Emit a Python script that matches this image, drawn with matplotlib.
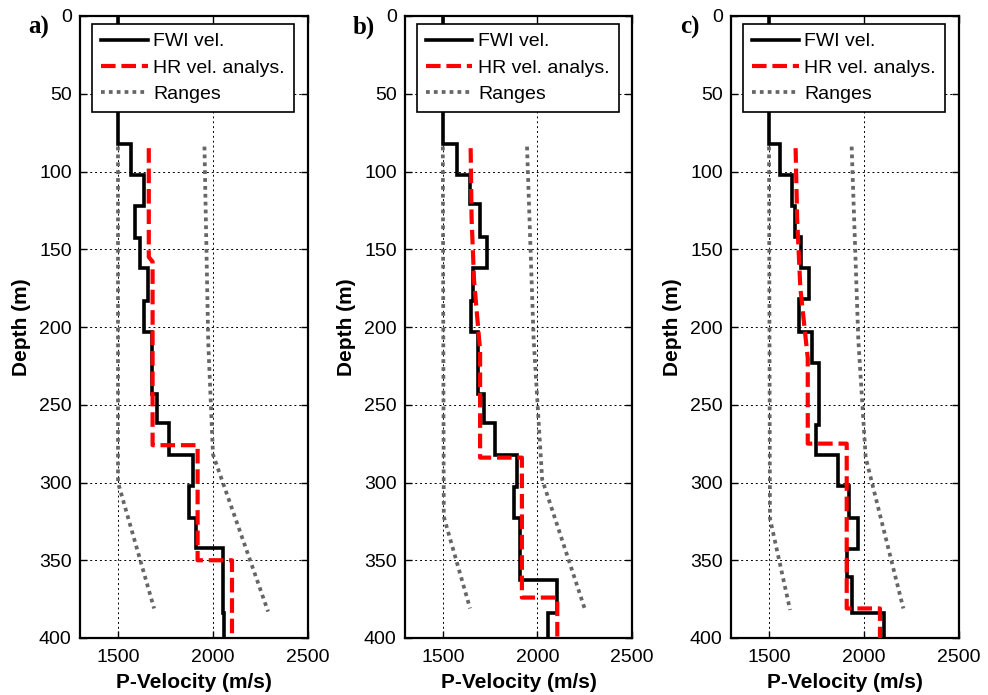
import numpy as np
import matplotlib
matplotlib.use('Agg')
import matplotlib.pyplot as plt

# ---------------- data ----------------
panel_labels = ['a)', 'b)', 'c)']
legend_labels = ['FWI vel.', 'HR vel. analys.', 'Ranges']
x_ticks = [1500, 2000, 2500]
y_ticks = [0, 50, 100, 150, 200, 250, 300, 350, 400]

# FWI velocity: layer boundaries (m) and interval velocities (m/s)
fwi_a_depth = [0, 82, 102, 122, 143, 162, 183, 203, 243, 262, 282, 302, 323, 342, 384, 400]
fwi_a_vel = [1500, 1568, 1639, 1591, 1616, 1656, 1635, 1678, 1703, 1766, 1893, 1876, 1911, 2051, 2058]

fwi_b_depth = [0, 82, 102, 121, 142, 162, 183, 203, 243, 262, 282, 303, 323, 363, 384, 400]
fwi_b_vel = [1500, 1576, 1644, 1697, 1732, 1661, 1647, 1688, 1715, 1777, 1892, 1874, 1910, 2101, 2055]

fwi_c_depth = [0, 82, 102, 122, 142, 162, 182, 203, 223, 263, 282, 302, 323, 343, 361, 384, 400]
fwi_c_vel = [1500, 1558, 1619, 1637, 1668, 1712, 1658, 1725, 1763, 1746, 1865, 1921, 1970, 1909, 1939, 2107]

# HR velocity analysis (polyline vertices)
hr_a_vel = [1662, 1662, 1682, 1682, 1919, 1919, 2100, 2100]
hr_a_depth = [85, 155, 158, 276, 276, 350, 350, 400]

hr_b_vel = [1647, 1652, 1665, 1697, 1697, 1918, 1918, 2105, 2105]
hr_b_depth = [85, 130, 170, 215, 284, 284, 374, 374, 400]

hr_c_vel = [1640, 1648, 1665, 1704, 1704, 1909, 1909, 2084, 2084]
hr_c_depth = [85, 130, 175, 220, 275, 275, 381, 381, 400]

# Ranges (lower / upper bounds)
rng_a_low_vel = [1500, 1500, 1690]
rng_a_low_depth = [84, 300, 381]
rng_a_up_vel = [1955, 1975, 2000, 2290]
rng_a_up_depth = [84, 210, 282, 383]

rng_b_low_vel = [1500, 1505, 1644]
rng_b_low_depth = [84, 322, 381]
rng_b_up_vel = [1945, 1980, 2025, 2255]
rng_b_up_depth = [84, 208, 298, 383]

rng_c_low_vel = [1500, 1505, 1611]
rng_c_low_depth = [84, 323, 382]
rng_c_up_vel = [1935, 1970, 2009, 2207]
rng_c_up_depth = [84, 208, 284, 381]

panels = [
    (fwi_a_depth, fwi_a_vel, hr_a_vel, hr_a_depth,
     (rng_a_low_vel, rng_a_low_depth), (rng_a_up_vel, rng_a_up_depth)),
    (fwi_b_depth, fwi_b_vel, hr_b_vel, hr_b_depth,
     (rng_b_low_vel, rng_b_low_depth), (rng_b_up_vel, rng_b_up_depth)),
    (fwi_c_depth, fwi_c_vel, hr_c_vel, hr_c_depth,
     (rng_c_low_vel, rng_c_low_depth), (rng_c_up_vel, rng_c_up_depth)),
]


def step_xy(depths, vels):
    d = np.asarray(depths, float)
    v = np.asarray(vels, float)
    y = np.repeat(d, 2)[1:-1]
    x = np.repeat(v, 2)
    return x, y


plt.rcParams['font.family'] = ['Liberation Sans', 'DejaVu Sans']

W, H = 988, 695
fig = plt.figure(figsize=(W / 100, H / 100), dpi=100)

lefts = [80, 405, 731]
widths = [228, 227, 228]
top_px, bot_px = 16, 638

for i, (fd, fv, hv, hd, rlow, rup) in enumerate(panels):
    ax = fig.add_axes([lefts[i] / W, 1 - bot_px / H, widths[i] / W, (bot_px - top_px) / H])
    x, y = step_xy(fd, fv)
    ax.plot(x, y, color='black', lw=2.6, solid_joinstyle='miter', label=legend_labels[0], zorder=3)
    ax.plot(hv, hd, color='#ff0000', lw=3.0, linestyle=(0, (3.5, 1.4)),
            label=legend_labels[1], zorder=4)
    ax.plot(rlow[0], rlow[1], color='#666666', lw=2.7, linestyle=(0, (1, 1.1)),
            label=legend_labels[2], zorder=3)
    ax.plot(rup[0], rup[1], color='#666666', lw=2.7, linestyle=(0, (1, 1.1)), zorder=3)

    ax.set_xlim(1300, 2500)
    ax.set_ylim(400, 0)
    ax.set_xticks(x_ticks)
    ax.set_yticks(y_ticks)
    ax.tick_params(axis='x', direction='in', length=5, width=1, top=True,
                   labelsize=14, pad=8)
    ax.tick_params(axis='y', direction='in', length=5, width=1, right=True,
                   labelsize=14, pad=6)
    ax.grid(True, color='black', lw=0.7, linestyle=(0, (2, 3)), zorder=1)
    for s in ax.spines.values():
        s.set_linewidth(1.6)
    ax.set_xlabel('P-Velocity (m/s)', fontsize=15, fontweight='bold', labelpad=5)
    ax.set_ylabel('Depth (m)', fontsize=15, fontweight='bold')
    ax.yaxis.set_label_coords(-0.215, 0.5)

    leg = ax.legend(loc='upper left', bbox_to_anchor=(0.053, 0.987), borderaxespad=0,
                    fontsize=14, frameon=True, fancybox=False, framealpha=1,
                    edgecolor='black', handlelength=2.4, handletextpad=0.3,
                    labelspacing=0.45, borderpad=0.45)
    leg.get_frame().set_linewidth(1.2)
    leg.set_zorder(10)

    fig.text((lefts[i] - 41) / W, 1 - 27 / H, panel_labels[i], fontsize=18, fontweight='bold',
             family=['Liberation Serif', 'DejaVu Serif'], ha='center', va='center')

fig.savefig('out.png', dpi=100)
